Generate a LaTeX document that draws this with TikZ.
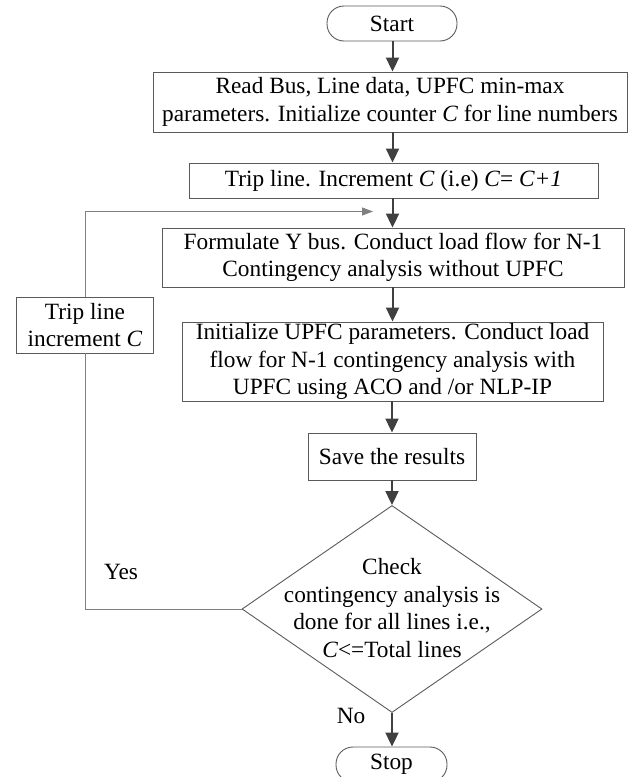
\documentclass[tikz,border=0pt]{standalone}
\usepackage{fontspec}
\setmainfont{Liberation Serif}
\usetikzlibrary{shapes.geometric,arrows.meta}
\definecolor{boxline}{HTML}{5A5A5A}
\definecolor{arrowcol}{HTML}{404040}
\definecolor{loopcol}{HTML}{808080}
\tikzset{
  every node/.style={font=\fontsize{23.3}{27.5}\selectfont, text=black},
  boxnode/.style={draw=boxline, line width=0.9pt, rectangle, inner sep=0pt, align=center},
  termnode/.style={draw=boxline, line width=0.9pt, rectangle, rounded corners=17pt, inner sep=0pt, minimum width=130pt, minimum height=35pt},
  decnode/.style={draw=boxline, line width=0.9pt, diamond, inner sep=0pt, minimum width=300pt, minimum height=207pt},
  mainarrow/.style={draw=arrowcol, line width=2pt, -{Triangle[length=14pt,width=13pt]}},
  looparrow/.style={draw=loopcol, line width=1pt, -{Triangle[length=11pt,width=8pt]}},
  loopline/.style={draw=loopcol, line width=1pt},
  lbl/.style={inner sep=0pt}
}
\begin{document}
\begin{tikzpicture}[x=1pt,y=1pt]
\useasboundingbox (0,0) rectangle (629,-777);
\node[termnode] (start) at (392,-23.5) {Start};
\node[boxnode, minimum width=474pt, minimum height=60pt] (b1) at (390,-102)
  {Read Bus, Line data, UPFC min-max\\parameters. Initialize counter \textit{C} for line numbers};
\node[boxnode, minimum width=409pt, minimum height=35pt] (b2) at (393.5,-180.5)
  {Trip line. Increment \textit{C} (i.e) \textit{C}= \textit{C+1}};
\node[boxnode, minimum width=462pt, minimum height=59pt] (b3) at (393,-257.5)
  {Formulate Y bus. Conduct load flow for N-1\\Contingency analysis without UPFC};
\node[boxnode, minimum width=421pt, minimum height=79pt] (b4) at (392.5,-361.5)
  {Initialize UPFC parameters. Conduct load\\flow for N-1 contingency analysis with\\UPFC using ACO and /or NLP-IP};
\node[boxnode, minimum width=168pt, minimum height=47pt] (save) at (392,-456.5)
  {Save the results};
\node[decnode] (dia) at (392,-609) {};
\node[lbl, align=center] (diatext) at (392,-608)
  {Check\\contingency analysis is\\done for all lines i.e.,\\\textit{C}<=Total lines};
\node[termnode, minimum width=111pt] (stop) at (391.5,-764.5) {Stop};
\node[boxnode, minimum width=137pt, minimum height=56pt] (trip) at (85,-325)
  {Trip line\\increment \textit{C}};
\node[lbl] (yes) at (121,-572) {Yes};
\node[lbl] (no) at (351,-716) {No};
\coordinate (loopend) at (373,-211.5);

\draw[mainarrow] (start.south -| 392.5,0) -- (b1.north -| 392.5,0);
\draw[mainarrow] (b1.south -| 392.5,0) -- (b2.north -| 392.5,0);
\draw[mainarrow] (b2.south -| 392.5,0) -- (b3.north -| 392.5,0);
\draw[mainarrow] (b3.south -| 392.5,0) -- (b4.north -| 392.5,0);
\draw[mainarrow] (b4.south -| 392,0) -- (save.north -| 392,0);
\draw[mainarrow] (save.south) -- (dia.north);
\draw[mainarrow] (dia.south) -- (stop.north -| dia.south);
\draw[loopline] (dia.west) -| (trip.south);
\draw[looparrow] (trip.north) |- (loopend);
\end{tikzpicture}
\end{document}
